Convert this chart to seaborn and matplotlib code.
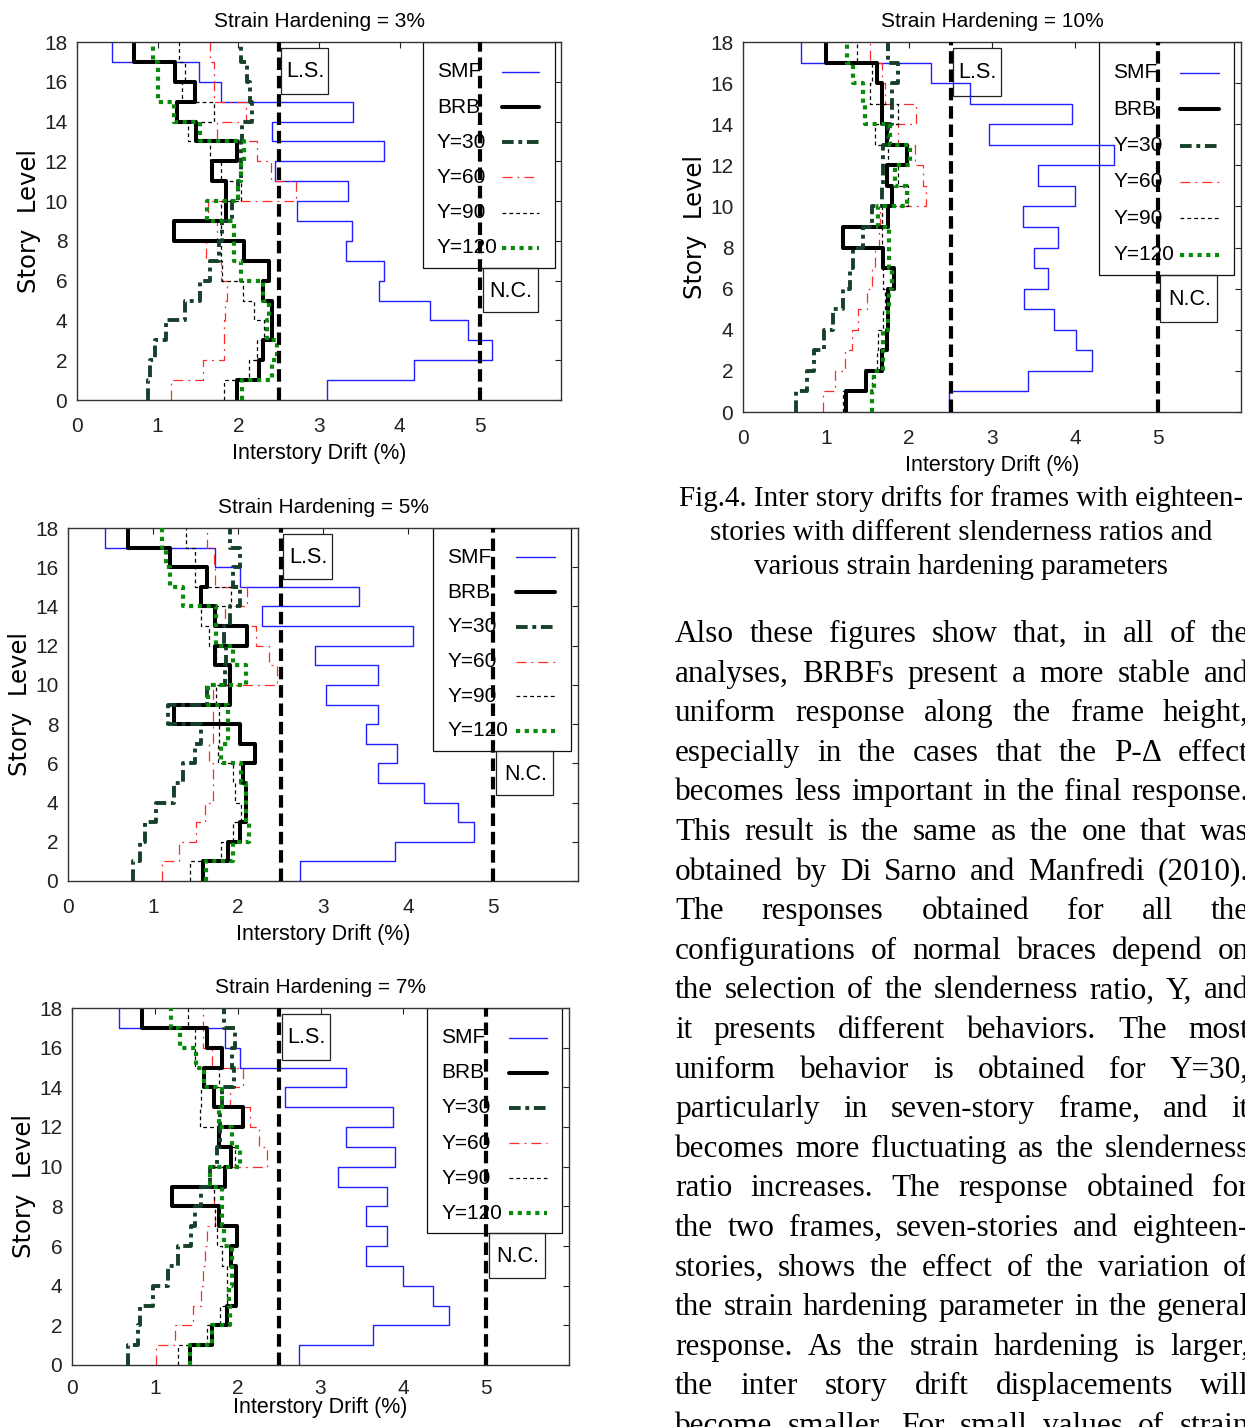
# Inter-story drift profiles, 18-storey frames, four strain hardening levels
import numpy as np
import pandas as pd
import matplotlib
matplotlib.use('Agg')
import matplotlib.pyplot as plt
import matplotlib.transforms as mtransforms
from matplotlib.patches import Rectangle
import seaborn as sns

# %% data (drift in %, one value per storey, storey 1 -> 18)
stories = np.arange(1, 19)
series_names = ['SMF', 'BRB', 'Y=30', 'Y=60', 'Y=90', 'Y=120']
hardening = ['3%', '5%', '7%', '10%']

smf_3 = [3.10, 4.18, 5.14, 4.85, 4.38, 3.74, 3.81, 3.33, 3.41, 2.73, 3.36, 2.45, 3.80, 2.42, 3.42, 1.78, 1.51, 0.43]
brb_3 = [1.98, 2.25, 2.30, 2.42, 2.42, 2.30, 2.38, 2.07, 1.20, 1.85, 1.85, 1.67, 1.98, 1.48, 1.24, 1.46, 1.22, 0.71]
y30_3 = [0.88, 0.91, 0.97, 1.10, 1.34, 1.53, 1.65, 1.76, 1.80, 1.92, 1.99, 2.03, 2.03, 2.05, 2.17, 2.15, 2.11, 2.03]
y60_3 = [1.17, 1.56, 1.82, 1.82, 1.84, 1.86, 1.79, 1.60, 1.74, 1.63, 2.72, 2.40, 2.23, 1.74, 2.09, 1.70, 1.70, 1.65]
y90_3 = [1.82, 2.13, 2.23, 2.32, 2.19, 2.06, 1.80, 1.78, 1.78, 1.78, 2.03, 1.78, 1.65, 1.37, 1.70, 1.30, 1.34, 1.26]
y120_3 = [2.05, 2.42, 2.48, 2.35, 2.38, 2.30, 2.03, 1.95, 1.95, 1.61, 1.99, 2.03, 2.07, 1.52, 1.20, 1.00, 1.00, 0.94]

smf_5 = [2.73, 3.85, 4.78, 4.59, 4.19, 3.65, 3.87, 3.51, 3.65, 3.04, 3.65, 2.91, 4.06, 2.28, 3.42, 2.02, 1.73, 0.44]
brb_5 = [1.59, 1.88, 2.02, 2.09, 2.09, 2.06, 2.20, 2.02, 1.25, 1.91, 1.91, 1.73, 2.11, 1.73, 1.57, 1.63, 1.20, 0.71]
y30_5 = [0.77, 0.85, 0.90, 1.04, 1.25, 1.35, 1.49, 1.57, 1.18, 1.64, 1.85, 1.86, 1.84, 1.90, 2.02, 1.94, 2.02, 1.90]
y60_5 = [1.10, 1.30, 1.50, 1.61, 1.70, 1.71, 1.66, 1.71, 1.71, 1.70, 2.46, 2.37, 2.21, 1.85, 2.11, 1.73, 1.72, 1.64]
y90_5 = [1.43, 1.80, 1.94, 2.04, 1.96, 1.94, 1.76, 1.78, 1.78, 1.74, 1.88, 1.74, 1.66, 1.57, 1.92, 1.49, 1.49, 1.39]
y120_5 = [1.62, 1.94, 2.13, 2.09, 2.09, 2.04, 1.80, 1.88, 1.88, 1.65, 2.09, 1.94, 1.74, 1.74, 1.35, 1.20, 1.15, 1.11]

smf_7 = [2.74, 3.63, 4.55, 4.36, 3.99, 3.55, 3.80, 3.55, 3.80, 3.21, 3.90, 3.31, 3.88, 2.57, 3.31, 2.03, 1.85, 0.57]
brb_7 = [1.42, 1.69, 1.87, 1.98, 1.98, 1.92, 1.99, 1.78, 1.21, 1.85, 1.92, 1.78, 2.07, 1.71, 1.59, 1.81, 1.63, 0.84]
y30_7 = [0.68, 0.80, 0.82, 0.98, 1.16, 1.28, 1.44, 1.48, 1.56, 1.67, 1.75, 1.79, 1.79, 1.81, 1.95, 1.93, 1.97, 1.83]
y60_7 = [1.02, 1.24, 1.46, 1.56, 1.58, 1.60, 1.63, 1.73, 1.71, 1.65, 2.35, 2.26, 2.15, 1.91, 2.07, 1.69, 1.58, 1.58]
y90_7 = [1.28, 1.63, 1.79, 1.87, 1.87, 1.81, 1.75, 1.73, 1.71, 1.67, 1.97, 1.79, 1.54, 1.56, 1.77, 1.48, 1.48, 1.40]
y120_7 = [1.42, 1.69, 1.91, 1.89, 1.93, 1.93, 1.83, 1.81, 1.81, 1.67, 2.03, 1.93, 1.77, 1.81, 1.59, 1.50, 1.30, 1.20]

smf_10 = [2.48, 3.43, 4.21, 4.01, 3.75, 3.38, 3.67, 3.50, 3.79, 3.37, 4.00, 3.55, 4.47, 2.96, 3.96, 2.74, 2.27, 0.70]
brb_10 = [1.24, 1.48, 1.67, 1.73, 1.75, 1.75, 1.82, 1.69, 1.20, 1.75, 1.79, 1.74, 1.98, 1.73, 1.67, 1.67, 1.61, 1.00]
y30_10 = [0.64, 0.77, 0.86, 0.97, 1.09, 1.21, 1.29, 1.33, 1.45, 1.55, 1.67, 1.69, 1.69, 1.75, 1.79, 1.79, 1.87, 1.75]
y60_10 = [0.96, 1.11, 1.23, 1.31, 1.39, 1.49, 1.55, 1.59, 1.64, 1.65, 2.21, 2.17, 2.07, 1.87, 2.09, 1.71, 1.67, 1.53]
y90_10 = [1.21, 1.55, 1.61, 1.63, 1.69, 1.71, 1.69, 1.67, 1.67, 1.67, 1.99, 1.87, 1.75, 1.59, 1.87, 1.53, 1.55, 1.37]
y120_10 = [1.55, 1.58, 1.69, 1.69, 1.75, 1.76, 1.79, 1.76, 1.76, 1.63, 1.97, 1.83, 2.01, 1.77, 1.47, 1.45, 1.33, 1.25]

LS_LIMIT = 2.5
NC_LIMIT = 5.0

caption_lines = [
    "Fig.4. Inter story drifts for frames with eighteen-",
    "stories with different slenderness ratios and",
    "various strain hardening parameters",
]
body_lines = [
    "Also these figures show that, in all of the",
    "analyses, BRBFs present a more stable and",
    "uniform response along the frame height,",
    "especially in the cases that the P-\u0394 effect",
    "becomes less important in the final response.",
    "This result is the same as the one that was",
    "obtained by Di Sarno and Manfredi (2010).",
    "The responses obtained for all the",
    "configurations of normal braces depend on",
    "the selection of the slenderness ratio, Y, and",
    "it presents different behaviors. The most",
    "uniform behavior is obtained for Y=30,",
    "particularly in seven-story frame, and it",
    "becomes more fluctuating as the slenderness",
    "ratio increases. The response obtained for",
    "the two frames, seven-stories and eighteen-",
    "stories, shows the effect of the variation of",
    "the strain hardening parameter in the general",
    "response. As the strain hardening is larger,",
    "the inter story drift displacements will",
    "become smaller. For small values of strain",
]

panel_data = {
    '3%': [smf_3, brb_3, y30_3, y60_3, y90_3, y120_3],
    '5%': [smf_5, brb_5, y30_5, y60_5, y90_5, y120_5],
    '7%': [smf_7, brb_7, y30_7, y60_7, y90_7, y120_7],
    '10%': [smf_10, brb_10, y30_10, y60_10, y90_10, y120_10],
}

# long table of step profiles: vertical segment per storey, horizontal at floors
rows = []
levels = np.repeat(np.arange(0, 19), 2)[1:-1]
for h in hardening:
    for name, vals in zip(series_names, panel_data[h]):
        xs = np.repeat(vals, 2)
        for i, (x, y) in enumerate(zip(xs, levels)):
            rows.append({'hardening': h, 'series': name, 'order': i, 'drift': x, 'level': y})
df = pd.DataFrame(rows)

# %% style
sns.set_theme(style='white')
plt.rcParams['font.family'] = ['Liberation Sans', 'DejaVu Sans']
SERIF = ['Liberation Serif', 'DejaVu Serif']

styles = {
    'SMF':   dict(color='#1f1fff', lw=1.0, ls='-', z=2.0),
    'BRB':   dict(color='black', lw=2.9, ls='-', z=2.4),
    'Y=30':  dict(color='#16402a', lw=2.8, ls=(0, (3, 1.2, 1, 1.2)), z=2.5),
    'Y=60':  dict(color='#ff2a2a', lw=0.9, ls=(0, (8, 4, 1.5, 4)), z=2.2),
    'Y=90':  dict(color='black', lw=0.9, ls=(0, (3, 2.5)), z=2.3),
    'Y=120': dict(color='#0a8a0a', lw=3.0, ls=(0, (1, 1.1)), z=2.6),
}

# legend / annotation layout (data units of the panels)
LEG_X0, LEG_X1, LEG_Y0 = 4.29, 5.92, 6.65
LEG_TEXT_X = 4.46
LEG_KEY = (5.27, 5.73)
LEG_ROW0, LEG_PITCH = 16.5, 1.77

W, H = 1245, 1427
fig = plt.figure(figsize=(W / 100, H / 100), dpi=100)

# axes boxes in pixels: left, right, top, bottom
boxes = {
    '3%': (77, 561, 42, 400),
    '5%': (68, 578, 528, 881),
    '7%': (72, 569, 1008, 1365),
    '10%': (743, 1241, 42, 412),
}
xlabel_pad = {'3%': 5, '5%': 5, '7%': -1, '10%': 5}

TICK_FS = 15
LAB_FS = 15.5
LEG_FS = 15
TITLE_FS = 15

for h in hardening:
    l, r, t, b = boxes[h]
    ax = fig.add_axes([l / W, 1 - b / H, (r - l) / W, (b - t) / H])
    sub = df[df['hardening'] == h]
    for name in series_names:
        st = styles[name]
        sns.lineplot(data=sub[sub['series'] == name], x='drift', y='level',
                     sort=False, estimator=None, color=st['color'], lw=st['lw'],
                     ls=st['ls'], zorder=st['z'], ax=ax, legend=False)

    lim_style = dict(color='black', lw=3.0, ls=(0, (3, 1.4)), zorder=6)
    ax.axvline(LS_LIMIT, **lim_style)
    ax.axvline(NC_LIMIT, **lim_style)

    # L.S. and N.C. annotation boxes
    ax.add_patch(Rectangle((LS_LIMIT + 0.03, 15.38), 0.58, 2.32, fill=False,
                           ec='#222222', lw=0.9, zorder=1.6))
    ax.text(LS_LIMIT + 0.33, 16.5, 'L.S.', ha='center', va='center',
            fontsize=LAB_FS, color='black', zorder=1.7)
    ax.add_patch(Rectangle((NC_LIMIT + 0.03, 4.4), 0.68, LEG_Y0 - 4.4, fill=False,
                           ec='#222222', lw=0.9, zorder=1.6))
    ax.text(NC_LIMIT + 0.38, 5.45, 'N.C.', ha='center', va='center',
            fontsize=LAB_FS, color='black', zorder=1.7)

    # legend: labels on the left, keys on the right (MATLAB look)
    ax.add_patch(Rectangle((LEG_X0, LEG_Y0), LEG_X1 - LEG_X0, 18 - LEG_Y0,
                           fc='white', ec='#111111', lw=0.9, zorder=1.5))
    for k, name in enumerate(series_names):
        st = styles[name]
        yk = LEG_ROW0 - k * LEG_PITCH
        ax.text(LEG_TEXT_X, yk, name, ha='left', va='center', fontsize=LEG_FS,
                color='black', zorder=1.7)
        ax.plot(LEG_KEY, [yk, yk], color=st['color'], lw=st['lw'], ls=st['ls'],
                zorder=1.8)

    ax.set_xlim(0, 6)
    ax.set_ylim(0, 18)
    ax.set_xticks(range(0, 6))
    ax.set_yticks(range(0, 19, 2))
    ax.tick_params(direction='in', top=True, right=True, length=4,
                   width=0.8, colors='#222222', labelsize=TICK_FS)
    ax.tick_params(axis='x', pad=12 if h != '7%' else 10)
    ax.tick_params(axis='y', pad=7)
    for s in ax.spines.values():
        s.set_color('#333333')
        s.set_linewidth(1.0)
    ax.set_xlabel('Interstory Drift (%)', fontsize=LAB_FS, labelpad=xlabel_pad[h],
                  color='black')
    ax.set_ylabel('Story  Level', fontsize=17.5, labelpad=2, color='black',
                  family=['DejaVu Sans'])
    ax.set_title(f'Strain Hardening = {h}', fontsize=TITLE_FS, pad=11, color='black')

# %% right column text
ident = mtransforms.IdentityTransform()
renderer = fig.canvas.get_renderer()

probe = fig.text(0, 0, caption_lines[0], transform=ident, fontsize=20, family=SERIF)
cap_fs = 20 * 566 / probe.get_window_extent(renderer).width
probe.remove()
for k, line in enumerate(caption_lines):
    fig.text(961, H - (506 + 34 * k), line, transform=ident, fontsize=cap_fs,
             family=SERIF, ha='center', va='baseline', color='black')

L_EDGE, R_EDGE = 675, 1249
for k, line in enumerate(body_lines):
    words = line.split()
    y = H - (642 + 39.6 * k)
    texts = [fig.text(0, y, w, transform=ident, fontsize=22.5, family=SERIF,
                      va='baseline', color='black') for w in words]
    widths = [t.get_window_extent(renderer).width for t in texts]
    gap = (R_EDGE - L_EDGE - sum(widths)) / max(len(words) - 1, 1)
    x = L_EDGE
    for t, w in zip(texts, widths):
        t.set_x(x)
        x += w + gap

fig.savefig('out.png', dpi=100)
